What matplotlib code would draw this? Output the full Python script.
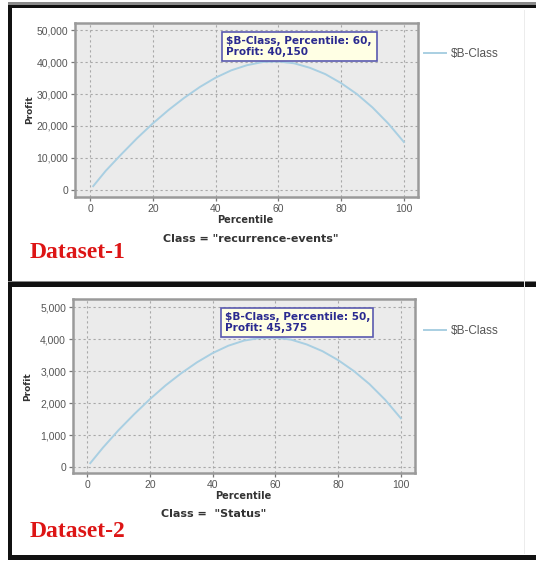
import matplotlib
matplotlib.use("Agg")
import matplotlib.pyplot as plt
from matplotlib.patches import Rectangle
from matplotlib.ticker import FuncFormatter

plt.rcParams['font.family'] = ['Liberation Sans', 'DejaVu Sans']

# ---- data ----
percentile = [1, 5, 10, 15, 20, 25, 30, 35, 40, 45, 50, 55, 60, 65, 70, 75, 80, 85, 90, 95, 100]
profit_1 = [1200, 6000, 11200, 16200, 20800, 25000, 28800, 32200, 35100, 37400, 39000,
            40000, 40150, 39600, 38200, 36200, 33400, 30000, 25800, 20800, 15000]
profit_2 = [120, 600, 1150, 1650, 2120, 2550, 2930, 3270, 3560, 3790, 3950,
            4030, 4040, 3980, 3830, 3620, 3340, 3000, 2590, 2100, 1520]
x_ticks = [0, 20, 40, 60, 80, 100]
y_ticks_1 = [0, 10000, 20000, 30000, 40000, 50000]
y_ticks_2 = [0, 1000, 2000, 3000, 4000, 5000]
series_name = "$B-Class"
tooltip_1 = ["$B-Class, Percentile: 60,", "Profit: 40,150"]
tooltip_2 = ["$B-Class, Percentile: 50,", "Profit: 45,375"]
class_1 = 'Class = "recurrence-events"'
class_2 = 'Class =  "Status"'
dataset_1 = "Dataset-1"
dataset_2 = "Dataset-2"

W, H = 536, 561
fig = plt.figure(figsize=(W / 100, H / 100), dpi=100)
fig.patch.set_facecolor('white')


def fx(px):
    return px / W


def fy(py):
    return 1 - py / H


def rect_px(x0, y0, x1, y1, color):
    fig.add_artist(Rectangle((fx(x0), fy(y1)), fx(x1) - fx(x0), fy(y0) - fy(y1),
                             transform=fig.transFigure, facecolor=color,
                             edgecolor='none', zorder=5))


# panel borders
rect_px(8, 2, 536, 5, '#8a8a8a')
rect_px(8, 5, 536, 8, '#111111')
rect_px(8, 5, 12, 560, '#111111')
rect_px(8, 281, 536, 282, '#888888')
rect_px(8, 282, 536, 287, '#111111')
rect_px(8, 555, 536, 560, '#111111')
rect_px(524, 10, 525, 554, '#ececec')

line_color = '#a9cfe2'
bold_wide = ['DejaVu Sans']


def make_panel(ax_box, xlim, ylim, yticks, y, tooltip, tip_box, legend_y,
               perc_xy, prof_xy, class_txt, class_xy, ds_txt, ds_xy):
    l, t, r, b = ax_box
    ax = fig.add_axes([fx(l), fy(b), fx(r) - fx(l), fy(t) - fy(b)])
    ax.set_facecolor('#ebebeb')
    ax.plot(percentile, y, color=line_color, lw=1.4, label=series_name, zorder=3)
    ax.set_xlim(*xlim)
    ax.set_ylim(*ylim)
    ax.set_xticks(x_ticks)
    ax.set_yticks(yticks)
    ax.yaxis.set_major_formatter(FuncFormatter(lambda v, p: f"{int(v):,}"))
    ax.grid(True, color='#a8a8a8', linestyle=(0, (2, 2.5)), lw=0.8, zorder=1)
    ax.set_axisbelow(True)
    for s in ax.spines.values():
        s.set_color('#9a9a9a')
        s.set_linewidth(1.8)
    ax.tick_params(axis='both', direction='out', length=3, width=0.9,
                   color='#777777', labelsize=7.5, labelcolor='#555555', pad=2)
    leg = ax.legend(loc='center left', bbox_to_anchor=(fx(424), fy(legend_y)),
                    bbox_transform=fig.transFigure, frameon=False, fontsize=8.5,
                    handlelength=1.9, handletextpad=0.35, borderaxespad=0, borderpad=0)
    for txt in leg.get_texts():
        txt.set_color('#555555')
    # tooltip
    x0, y0, x1, y1 = tip_box
    fig.add_artist(Rectangle((fx(x0), fy(y1)), fx(x1) - fx(x0), fy(y0) - fy(y1),
                             transform=fig.transFigure, facecolor='#ffffe4',
                             edgecolor='#5a5ab0', lw=1.2, zorder=6))
    fig.text(fx(x0 + 4), fy(y0 + 9), tooltip[0], fontsize=7.6, fontweight='bold',
             color='#2a2a90', va='center', ha='left', zorder=7, family=bold_wide)
    fig.text(fx(x0 + 4), fy(y0 + 20), tooltip[1], fontsize=7.6, fontweight='bold',
             color='#2a2a90', va='center', ha='left', zorder=7, family=bold_wide)
    fig.text(fx(perc_xy[0]), fy(perc_xy[1]), 'Percentile', fontsize=7,
             fontweight='bold', color='#333333', ha='center', va='center',
             family=bold_wide)
    fig.text(fx(prof_xy[0]), fy(prof_xy[1]), 'Profit', fontsize=6.5,
             fontweight='bold', color='#333333', ha='center', va='center', rotation=90,
             family=bold_wide)
    fig.text(fx(class_xy[0]), fy(class_xy[1]), class_txt, fontsize=8,
             fontweight='bold', color='#333333', ha='left', va='center',
             family=bold_wide)
    fig.text(fx(ds_xy[0]), fy(ds_xy[1]), ds_txt, fontsize=17, fontweight='bold',
             color='#dd1515', ha='left', va='baseline', family='Liberation Serif')
    return ax


make_panel((75, 23, 418, 197), (-4.8, 104.5), (-2190, 52190), y_ticks_1, profit_1,
           tooltip_1, (222, 32, 377, 61), 54, (245, 220), (30, 110),
           class_1, (163, 239), dataset_1, (30, 258))
make_panel((73, 299, 415, 473), (-4.5, 104.5), (-187, 5250), y_ticks_2, profit_2,
           tooltip_2, (221, 308, 373, 337), 331, (243, 496), (28, 387),
           class_2, (161, 514), dataset_2, (30, 537))

fig.savefig('out.png', dpi=100, facecolor='white')
